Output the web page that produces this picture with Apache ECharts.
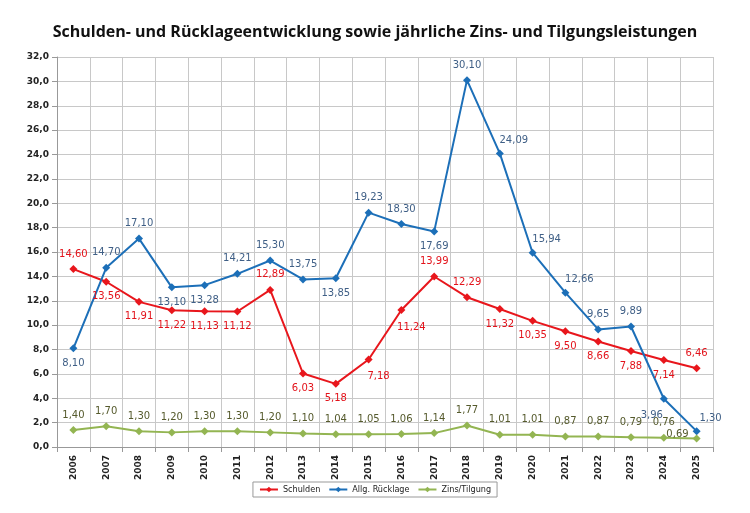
<!DOCTYPE html>
<html>
<head>
<meta charset="utf-8">
<script src="https://cdn.jsdelivr.net/npm/echarts@6/dist/echarts.min.js"></script>
<style>
  html, body { margin: 0; padding: 0; background: #fff; }
  #chart { width: 750px; height: 513px; }
</style>
</head>
<body>
<div id="chart"></div>
<script>
const years = ['2006', '2007', '2008', '2009', '2010', '2011', '2012', '2013', '2014', '2015',
  '2016', '2017', '2018', '2019', '2020', '2021', '2022', '2023', '2024', '2025']
const schulden = [14.60, 13.56, 11.91, 11.22, 11.13, 11.12, 12.89, 6.03, 5.18, 7.18,
  11.24, 13.99, 12.29, 11.32, 10.35, 9.50, 8.66, 7.88, 7.14, 6.46]
const ruecklage = [8.10, 14.70, 17.10, 13.10, 13.28, 14.21, 15.30, 13.75, 13.85, 19.23,
  18.30, 17.69, 30.10, 24.09, 15.94, 12.66, 9.65, 9.89, 3.96, 1.30]
const zinsTilgung = [1.40, 1.70, 1.30, 1.20, 1.30, 1.30, 1.20, 1.10, 1.04, 1.05,
  1.06, 1.14, 1.77, 1.01, 1.01, 0.87, 0.87, 0.79, 0.76, 0.69]

// where each value label sits relative to its point
const schuldenPos = ['top', 'bottom', 'bottom', 'bottom', 'bottom', 'bottom', 'top', 'bottom', 'bottom', 'bottomRight',
  'bottomRight', 'top', 'top', 'bottom', 'bottom', 'bottom', 'bottom', 'bottom', 'bottom', 'top']
const ruecklagePos = ['bottom', 'top', 'top', 'bottom', 'bottom', 'top', 'top', 'top', 'bottom', 'top',
  'top', 'bottom', 'top', 'topRight', 'topRight', 'topRight', 'top', 'top', 'bottomLeft', 'topRight']
const zinsPos = ['top', 'top', 'top', 'top', 'top', 'top', 'top', 'top', 'top', 'top',
  'top', 'top', 'top', 'top', 'top', 'top', 'top', 'top', 'top', 'left']

const fmt = v => v.toFixed(2).replace('.', ',')

function withLabels(values, positions) {
  return values.map((v, i) => {
    let pos = positions[i]
    let offset = [0, 0]
    if (pos === 'bottomRight') { pos = 'bottom'; offset = [10, 2] }
    if (pos === 'topRight') { pos = 'top'; offset = [14, 2] }
    if (pos === 'bottomLeft') { pos = 'bottom'; offset = [-12, 2] }
    if (pos === 'left') { offset = [2, -4] }
    return { value: v, label: { position: pos, offset: offset } }
  })
}

const chart = echarts.init(document.getElementById('chart'))

const labelBase = {
  show: true,
  fontFamily: 'DejaVu Sans',
  fontSize: 10,
  distance: 6,
  formatter: p => fmt(p.value)
}

chart.setOption({
  backgroundColor: '#fff',
  animation: false,
  title: {
    text: 'Schulden- und Rücklageentwicklung sowie jährliche Zins- und Tilgungsleistungen',
    left: 'center',
    top: 19,
    textStyle: {
      fontFamily: 'Open Sans',
      fontWeight: 'bold',
      fontSize: 16,
      color: '#111'
    }
  },
  legend: {
    bottom: 16,
    left: 'center',
    itemWidth: 18,
    itemHeight: 7,
    itemGap: 8,
    padding: [3, 6],
    borderColor: '#999',
    borderWidth: 1,
    textStyle: { fontFamily: "'DejaVu Sans Condensed', 'Roboto Condensed', Roboto", fontSize: 9, color: '#222' },
    data: ['Schulden', 'Allg. Rücklage', 'Zins/Tilgung']
  },
  grid: {
    left: 57,
    right: 37,
    top: 57,
    bottom: 66
  },
  xAxis: {
    type: 'category',
    data: years,
    boundaryGap: true,
    axisLine: { lineStyle: { color: '#999' } },
    axisTick: { show: true, length: 5, lineStyle: { color: '#999' } },
    splitLine: { show: true, interval: 0, lineStyle: { color: '#c8c8c8' } },
    axisLabel: {
      rotate: 90,
      interval: 0,
      fontFamily: 'DejaVu Sans',
      fontWeight: 'bold',
      fontSize: 9,
      color: '#222',
      margin: 8
    }
  },
  yAxis: {
    type: 'value',
    min: 0,
    max: 32,
    interval: 2,
    axisLine: { show: true, lineStyle: { color: '#999' } },
    axisTick: { show: true, length: 5, lineStyle: { color: '#999' } },
    splitLine: { lineStyle: { color: '#c8c8c8' } },
    axisLabel: {
      fontFamily: 'DejaVu Sans',
      fontWeight: 'bold',
      fontSize: 9,
      color: '#222',
      margin: 8,
      formatter: v => v.toFixed(1).replace('.', ',')
    }
  },
  series: [
    {
      name: 'Schulden',
      type: 'line',
      data: withLabels(schulden, schuldenPos),
      symbol: 'diamond',
      symbolSize: 8,
      lineStyle: { color: '#e8161c', width: 2 },
      itemStyle: { color: '#e8161c' },
      label: Object.assign({}, labelBase, { color: '#e3121a' })
    },
    {
      name: 'Allg. Rücklage',
      type: 'line',
      data: withLabels(ruecklage, ruecklagePos),
      symbol: 'diamond',
      symbolSize: 8,
      lineStyle: { color: '#1c6fb8', width: 2 },
      itemStyle: { color: '#1c6fb8' },
      label: Object.assign({}, labelBase, { color: '#3f5f86' })
    },
    {
      name: 'Zins/Tilgung',
      type: 'line',
      data: withLabels(zinsTilgung, zinsPos),
      symbol: 'diamond',
      symbolSize: 8,
      lineStyle: { color: '#93b552', width: 2 },
      itemStyle: { color: '#93b552' },
      label: Object.assign({}, labelBase, { color: '#555a2c' })
    }
  ]
})
</script>
</body>
</html>
